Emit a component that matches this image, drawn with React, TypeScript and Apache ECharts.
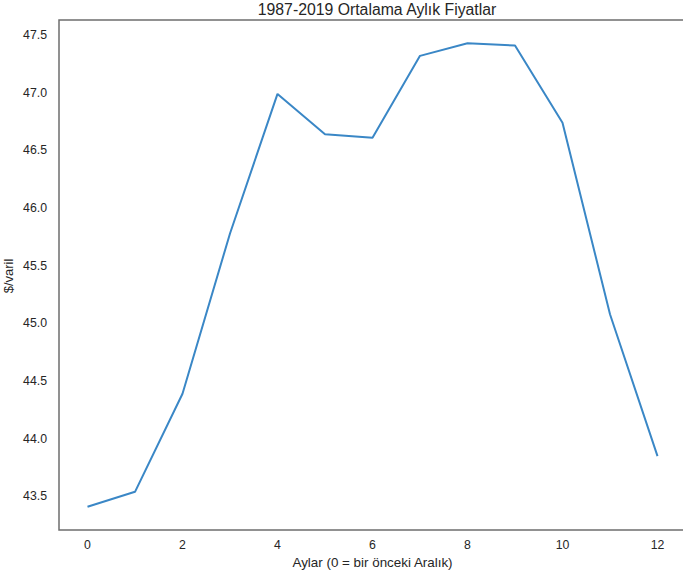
import React, { useEffect, useRef } from "react";
import * as echarts from "echarts";

const months = [0, 1, 2, 3, 4, 5, 6, 7, 8, 9, 10, 11, 12];
const prices = [43.41, 43.54, 44.39, 45.78, 46.99, 46.64, 46.61, 47.32, 47.43, 47.41, 46.74, 45.08, 43.85];
const xTicks = [0, 2, 4, 6, 8, 10, 12];
const yTicks = [43.5, 44.0, 44.5, 45.0, 45.5, 46.0, 46.5, 47.0, 47.5];

const titleText = "1987-2019 Ortalama Aylık Fiyatlar";
const xName = "Aylar (0 = bir önceki Aralık)";
const yName = "$/varil";

export default function App() {
  const ref = useRef<HTMLDivElement>(null);
  useEffect(() => {
    if (!ref.current) return;
    const chart = echarts.init(ref.current, undefined, { renderer: "svg" });
    const ymin = Math.min(...prices);
    const ymax = Math.max(...prices);
    const pad = (ymax - ymin) * 0.05;
    const font = "'Liberation Sans', Arial, sans-serif";
    chart.setOption({
      animation: false,
      backgroundColor: "#ffffff",
      title: {
        text: titleText,
        left: 372,
        top: -4,
        textAlign: "center",
        textStyle: { fontSize: 15.8, fontWeight: "normal", color: "#262626", fontFamily: font },
      },
      grid: {
        left: 59,
        top: 20,
        width: 627,
        height: 510,
        show: true,
        borderColor: "#6e6e6e",
        borderWidth: 1.5,
        containLabel: false,
        outerBoundsMode: "none",
      },
      graphic: [
        {
          type: "text",
          x: 8.5,
          y: 276,
          rotation: Math.PI / 2,
          style: {
            text: yName,
            fontSize: 13,
            fontFamily: font,
            fill: "#262626",
            align: "center",
            verticalAlign: "middle",
          },
        },
      ],
      xAxis: {
        type: "value",
        min: -0.6,
        max: 12.6,
        name: xName,
        nameLocation: "middle",
        nameGap: 26,
        nameTextStyle: { fontSize: 13.4, color: "#262626", fontFamily: font },
        axisLine: { show: false },
        axisTick: { show: false },
        splitLine: { show: false },
        axisLabel: {
          customValues: xTicks,
          margin: 9,
          fontSize: 12.3,
          color: "#262626",
          fontFamily: font,
        },
      },
      yAxis: {
        type: "value",
        min: ymin - pad,
        max: ymax + pad,
        axisLine: { show: false },
        axisTick: { show: false },
        splitLine: { show: false },
        axisLabel: {
          customValues: yTicks,
          margin: 12,
          fontSize: 12.3,
          color: "#262626",
          fontFamily: font,
          formatter: (v: number) => v.toFixed(1),
        },
      },
      series: [
        {
          type: "line",
          data: months.map((m, i) => [m, prices[i]]),
          showSymbol: false,
          lineStyle: { color: "#3a87c6", width: 2 },
          itemStyle: { color: "#3a87c6" },
        },
      ],
    });
    return () => chart.dispose();
  }, []);
  return (
    <div
      ref={ref}
      style={{ position: "fixed", left: 0, top: 0, width: 683, height: 578, background: "#fff" }}
    />
  );
}
